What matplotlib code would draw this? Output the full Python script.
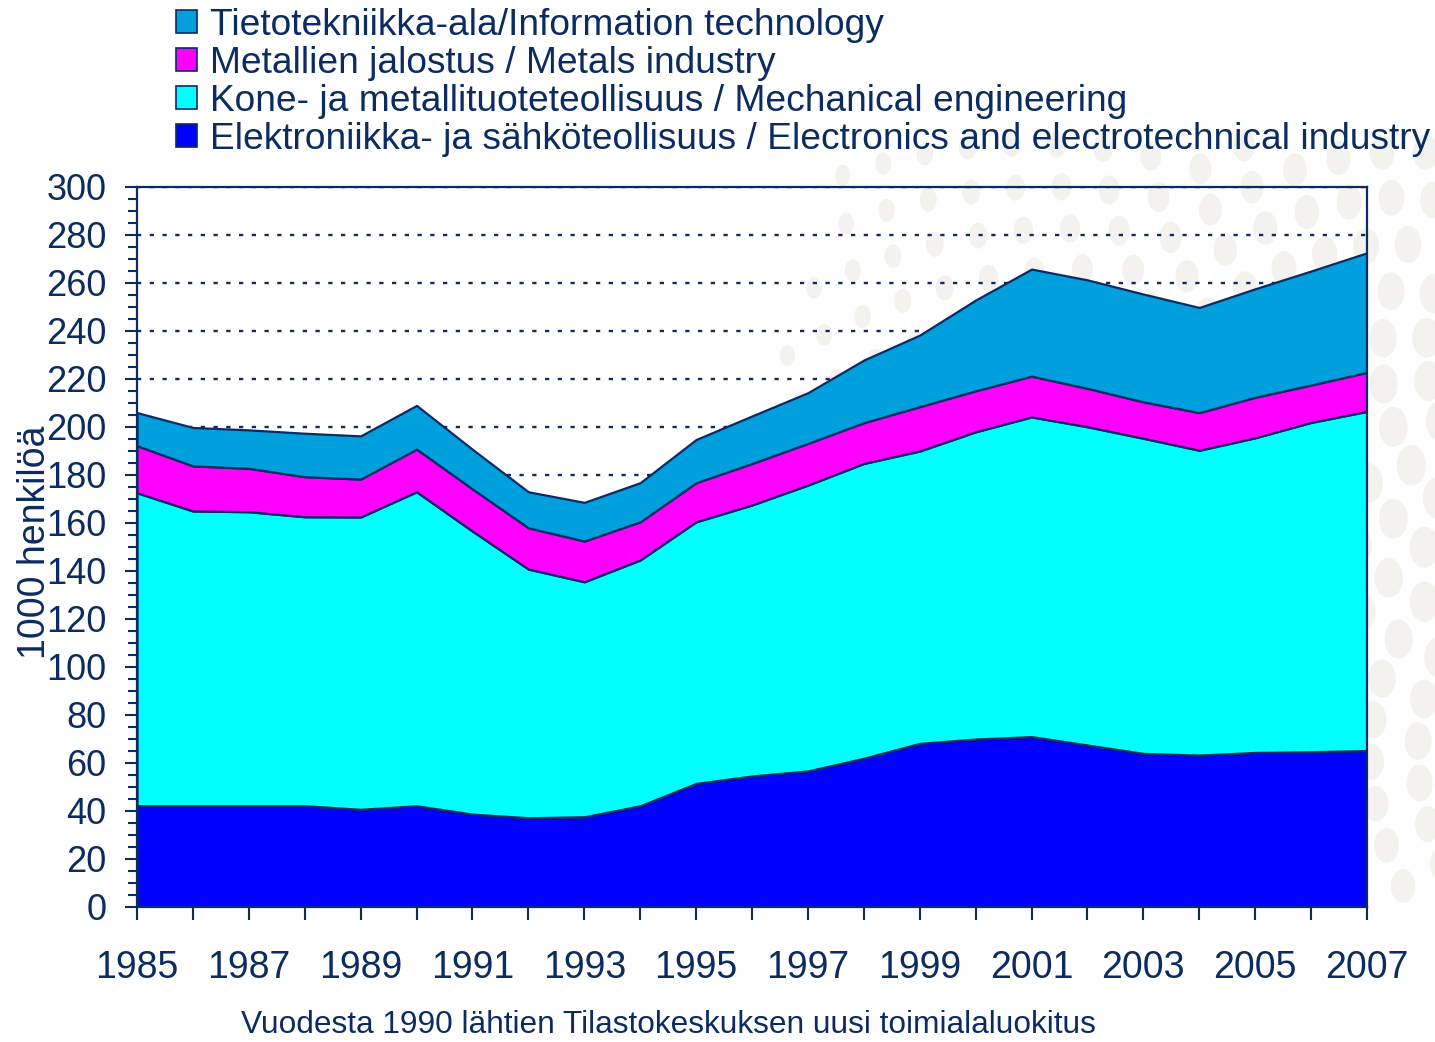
import numpy as np
import matplotlib
matplotlib.use("Agg")
import matplotlib.pyplot as plt
from matplotlib.patches import Patch, Ellipse

# data (1000 persons)
years = list(range(1985, 2008))
elektroniikka = [42.2, 42.2, 42.2, 42.2, 40.7, 42.2, 38.7, 37.2, 37.6, 42.2, 51.5, 54.6,
                 56.7, 62.0, 68.2, 70.0, 71.0, 67.5, 64.0, 63.3, 64.4, 64.7, 65.2]
kone = [130.4, 122.8, 122.5, 120.4, 121.8, 130.8, 117.9, 103.6, 97.9, 102.4, 109.0, 112.9,
        119.1, 122.8, 121.8, 128.0, 133.2, 132.6, 131.3, 127.0, 131.1, 137.2, 141.3]
metallit = [19.6, 18.8, 18.1, 16.7, 15.8, 17.8, 17.6, 17.2, 17.0, 15.9, 16.3, 17.3,
            17.4, 17.0, 18.5, 17.1, 17.0, 16.0, 15.2, 15.7, 16.9, 15.6, 16.3]
tietotekniikka = [13.8, 16.0, 16.0, 18.1, 18.0, 18.2, 16.5, 15.0, 16.1, 16.3, 18.0, 19.8,
                  21.1, 26.1, 29.8, 37.8, 44.6, 45.2, 44.9, 43.8, 45.2, 47.5, 49.8]

labels = [
    "Elektroniikka- ja sähköteollisuus / Electronics and electrotechnical industry",
    "Kone- ja metallituoteteollisuus / Mechanical engineering",
    "Metallien jalostus / Metals industry",
    "Tietotekniikka-ala/Information technology",
]
colors = ["#0000FF", "#00FFFF", "#FF00FF", "#009FDD"]
navy = "#0B2B63"

plt.rcParams["font.family"] = ["Liberation Sans", "DejaVu Sans"]

fig = plt.figure(figsize=(14.35, 10.42), dpi=100)

# decorative background dots (top right), pixel coords from top-left
bg = fig.add_axes([0, 0, 1, 1], zorder=-5)
bg.set_xlim(0, 1435)
bg.set_ylim(1042, 0)
bg.axis("off")
golden = np.pi * (3 - np.sqrt(5))
for k in range(30, 1400):
    r = 25 * np.sqrt(k)
    a = k * golden
    cx = 1650 + r * np.cos(a)
    cy = 500 + r * np.sin(a)
    if r > 880 or cx > 1470 or cy > 900 or cy < 140:
        continue
    s = 13 + 17 * (1 - r / 880)
    bg.add_patch(Ellipse((cx, cy), s * 1.15, s * 1.6, color="#F4F2EE", lw=0))

ax = fig.add_axes([137 / 1435, 135 / 1042, 1230 / 1435, 720 / 1042])
ax.patch.set_alpha(0)

ax.stackplot(years, elektroniikka, kone, metallit, tietotekniikka,
             colors=colors, edgecolor=navy, linewidth=1.6)

ax.set_xlim(1985, 2007)
ax.set_ylim(0, 300)
ax.set_axisbelow(True)
ax.yaxis.grid(True, linestyle=(0, (1.8, 3.6)), color=navy, linewidth=1.7)

ax.set_yticks(range(0, 301, 20))
ax.set_yticks(range(0, 301, 5), minor=True)
ax.set_xticks(years)
ax.set_xticklabels([str(y) if y % 2 == 1 else "" for y in years])

ax.tick_params(axis="y", which="major", length=9, width=1.5, color=navy, pad=13,
               labelsize=26, labelcolor=navy)
ax.tick_params(axis="y", which="minor", length=6.5, width=1.5, color=navy)
ax.tick_params(axis="x", which="major", length=9, width=1.5, color=navy, pad=22,
               labelsize=27, labelcolor=navy)
for spine in ax.spines.values():
    spine.set_color(navy)
    spine.set_linewidth(1.6)

fig.text(35 / 1435, 1 - 542 / 1042, "1000 henkilöä", rotation=90, ha="center", va="center",
         fontsize=27, color=navy)
fig.text(668 / 1435, 1 - 1025 / 1042, "Vuodesta 1990 lähtien Tilastokeskuksen uusi toimialaluokitus",
         ha="center", va="center", fontsize=22.8, color=navy)

handles = [Patch(facecolor=c, edgecolor=navy, linewidth=1.2) for c in colors]
leg = fig.legend(handles[::-1], labels[::-1], loc="upper left",
                 bbox_to_anchor=(172 / 1435, 1 - 4 / 1042), frameon=False,
                 fontsize=26.7,
                 handlelength=0.57, handleheight=0.57, handletextpad=0.35,
                 labelspacing=0.08, borderaxespad=0.1, borderpad=0)
for t in leg.get_texts():
    t.set_color(navy)

fig.savefig("out.png", dpi=100)
